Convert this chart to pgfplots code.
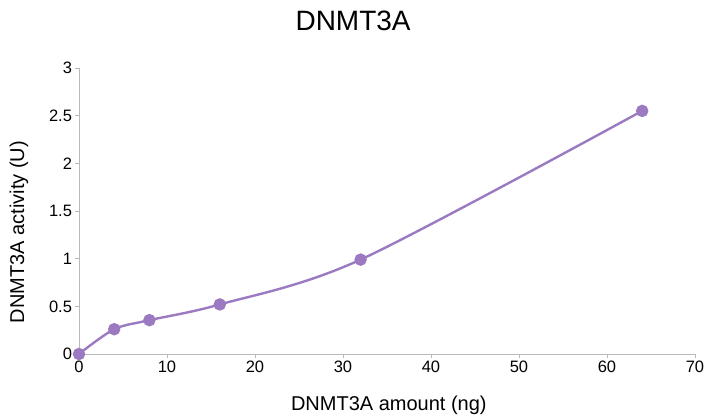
\documentclass[border=0pt]{standalone}
\usepackage{pgfplots}
\pgfplotsset{compat=1.18}
\usepackage{fontspec}
\setmainfont{Liberation Sans}
\definecolor{lineP}{RGB}{155,122,193}
\begin{document}
\begin{tikzpicture}
\useasboundingbox (-79bp,-65bp) rectangle (627bp,354bp);
\begin{axis}[
  at={(0,0)}, anchor=south west,
  scale only axis, width=616bp, height=286bp,
  xmin=0, xmax=70, ymin=0, ymax=3,
  xtick={0,10,...,70}, ytick={0,0.5,...,3},
  axis x line*=bottom, axis y line*=left,
  axis line style={-, draw=gray!55, line width=0.9bp},
  tick style={draw=gray!55, line width=0.9bp},
  tick align=outside, major tick length=3.5bp,
  /pgf/number format/assume math mode=true,
  yticklabel style={/pgf/number format/fixed, font=\fontsize{16.5bp}{18bp}\selectfont, xshift=0bp},
  xticklabel style={font=\fontsize{16.5bp}{18bp}\selectfont},
  xlabel={DNMT3A amount (ng)}, ylabel={DNMT3A activity (U)},
  label style={font=\fontsize{20bp}{22bp}\selectfont},
  xlabel style={at={(axis description cs:0.503,-0.178)}, anchor=center},
  ylabel style={at={(axis description cs:-0.0974,0.4266)}, anchor=center, rotate=0},
  title={DNMT3A},
  title style={font=\fontsize{28bp}{30bp}\selectfont, at={(axis description cs:0.445,1.143)}, anchor=center},
  clip=false,
]
\addplot[lineP, line width=2.4bp, smooth, tension=0.5, mark=*, mark size=5bp, mark options={fill=lineP, draw=lineP}]
coordinates {(0,0) (4,0.26) (8,0.355) (16,0.52) (32,0.99) (64,2.55)};
\end{axis}
\end{tikzpicture}
\end{document}
